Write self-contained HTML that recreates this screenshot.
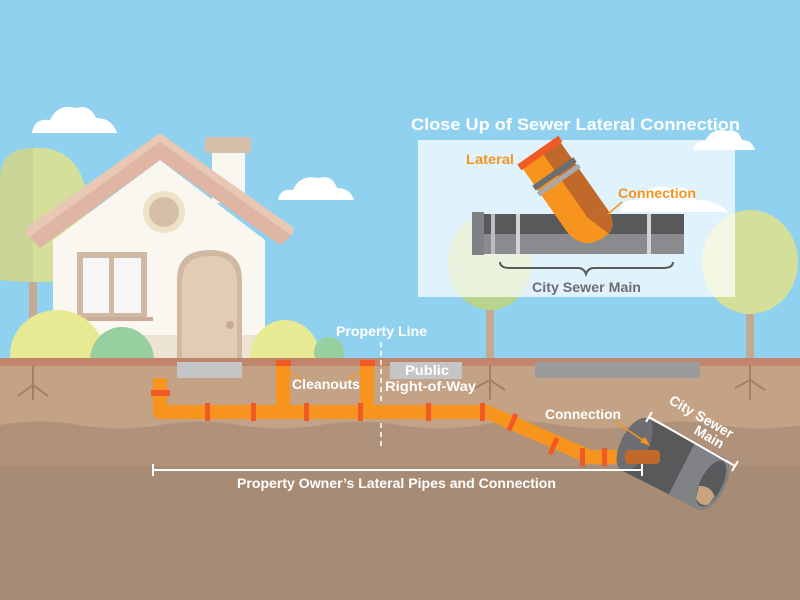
<!DOCTYPE html>
<html><head><meta charset="utf-8"><style>
html,body{margin:0;padding:0;width:800px;height:600px;overflow:hidden}
svg{display:block}
text{font-family:"Liberation Sans",sans-serif;font-weight:bold}
</style></head><body>
<svg width="800" height="600" viewBox="0 0 800 600" xmlns="http://www.w3.org/2000/svg">
<rect width="800" height="600" fill="#8fd1ef"/>
<g fill="#fff">
<path d="M32 133 Q34 118 50 120 Q58 103 76 108 Q90 104 96 118 Q112 118 117 133 Z"/>
<path d="M278 200 Q280 188 293 190 Q300 174 318 178 Q332 174 337 188 Q350 188 354 200 Z"/>
<path d="M693 150 Q695 140 705 141 Q712 127 727 131 Q738 128 742 140 Q752 140 755 150 Z"/>
<path d="M620 212 Q622 198 638 200 Q650 182 670 188 Q690 184 696 200 Q718 200 728 212 Z"/>
</g>
<rect x="29" y="280" width="8" height="80" fill="#c4a995"/>
<path d="M33 148 Q0 148 0 180 L0 280 Q15 282 33 282 Z" fill="#cbd497"/>
<path d="M33 148 Q80 145 88 200 Q92 270 55 282 L33 282 Z" fill="#d4e09a"/>
<rect x="486" y="300" width="8" height="62" fill="#c4a995"/>
<ellipse cx="490" cy="262" rx="42" ry="48" fill="#b8d48c"/>
<rect x="746" y="300" width="8" height="62" fill="#c4a995"/>
<ellipse cx="750" cy="262" rx="48" ry="52" fill="#d4e09a"/>
<rect x="205" y="137" width="46" height="16" fill="#d6bfa8"/>
<rect x="212" y="153" width="33" height="50" fill="#faf6f0"/>
<polygon points="53,240 160,160 265,240 265,360 53,360" fill="#faf7f1"/>
<rect x="53" y="335" width="212" height="25" fill="#ece3d2"/>
<polygon points="28,235 160,140 292,235 280,245 160,160 40,248" fill="#dfb6a3"/>
<polygon points="26,228 160,133 294,228 292,236 160,142 28,238" fill="#e8c8b4"/>
<circle cx="164" cy="212" r="21" fill="#ede2c8"/>
<circle cx="164" cy="212" r="15" fill="#d6bfa8"/>
<rect x="77" y="252" width="70" height="68" fill="#d1b8a3"/>
<rect x="83" y="258" width="26" height="55" fill="#f6f6f6"/>
<rect x="114" y="258" width="27" height="55" fill="#f6f6f6"/>
<rect x="87" y="317" width="66" height="4" fill="#c9ab97"/>
<path d="M177 360 L177 280 Q177 250 210 250 Q242 250 242 280 L242 360 Z" fill="#d1b8a3"/>
<path d="M182 360 L182 282 Q182 256 210 256 Q237 256 237 282 L237 360 Z" fill="#e2ccb4"/>
<circle cx="230" cy="325" r="4" fill="#c9ab97"/>
<ellipse cx="57" cy="355" rx="47" ry="45" fill="#e8ea93"/>
<ellipse cx="122" cy="360" rx="32" ry="33" fill="#97cfa0"/>
<ellipse cx="285" cy="358" rx="35" ry="38" fill="#e8ea93"/>
<ellipse cx="329" cy="352" rx="15" ry="15" fill="#97cfa0"/>
<rect x="418" y="140" width="317" height="157" fill="#ffffff" fill-opacity="0.72"/>
<text x="411" y="130" font-size="17" fill="#fff" textLength="329" lengthAdjust="spacingAndGlyphs">Close Up of Sewer Lateral Connection</text>
<rect x="472" y="212" width="12" height="43" fill="#808184"/>
<rect x="484" y="214" width="200" height="20" fill="#58595b"/>
<rect x="484" y="234" width="200" height="20" fill="#8a8b8e"/>
<rect x="491" y="214" width="4" height="40" fill="#bcbdc0"/>
<rect x="516" y="214" width="4" height="40" fill="#d4d4d4"/>
<rect x="647" y="214" width="4" height="40" fill="#d4d4d4"/>
<g transform="translate(570,196) rotate(-35)">
<rect x="-23" y="-50" width="46" height="78" fill="#f7941d"/>
<rect x="2" y="-50" width="21" height="78" fill="#c0692a"/>
<path d="M-23 28 Q-20 56 10 53 Q24 50 23 28 Z" fill="#f7941d"/>
<path d="M2 28 L23 28 Q24 50 10 53 Z" fill="#c0692a"/>
<rect x="-25" y="-56" width="50" height="7" fill="#f15a24"/>
<rect x="-25" y="-30" width="50" height="6" fill="#6d6e71"/>
<rect x="-25" y="-22" width="50" height="5" fill="#a7a9ac"/>
</g>
<text x="466" y="164" font-size="14" fill="#f7941d" textLength="48" lengthAdjust="spacingAndGlyphs">Lateral</text>
<text x="618" y="198" font-size="14" fill="#f7941d" textLength="78" lengthAdjust="spacingAndGlyphs">Connection</text>
<path d="M622 202 L608 214" stroke="#f7941d" stroke-width="1.5"/>
<path d="M500 262 Q500 268 510 268 L578 268 Q584 268 586 274 Q588 268 594 268 L663 268 Q673 268 673 262" fill="none" stroke="#58595b" stroke-width="2"/>
<text x="532" y="292" font-size="14" fill="#6d6e71" textLength="109" lengthAdjust="spacingAndGlyphs">City Sewer Main</text>
<rect x="0" y="358" width="800" height="242" fill="#c4a285"/>
<rect x="0" y="358" width="800" height="8" fill="#c0856a"/>
<path d="M0 425 Q40 418 80 425 T160 425 T240 425 T320 425 T400 425 T480 425 T560 425 T640 425 T720 425 T800 425 L800 600 L0 600 Z" fill="#b0927b"/>
<rect x="0" y="466" width="800" height="134" fill="#a88b74"/>
<rect x="177" y="362" width="65" height="16" fill="#c4c5c7"/>
<rect x="535" y="362" width="165" height="16" fill="#9a9b9d"/>
<rect x="390" y="362" width="72" height="17" fill="#c4c5c7"/>
<g stroke="#a57e64" stroke-width="2" fill="none">
<path d="M33 366 L33 400 M33 385 L18 396 M33 385 L48 396"/>
<path d="M490 366 L490 400 M490 380 L475 388 M490 380 L505 390"/>
<path d="M750 366 L750 400 M750 380 L735 388 M750 380 L765 390"/>
</g>
<line x1="381" y1="342" x2="381" y2="448" stroke="#fff" stroke-width="1.5" stroke-dasharray="5,4"/>
<g fill="none" stroke="#f7941d" stroke-width="14" stroke-linejoin="round">
<path d="M160 378 L160 412 L487 412 L590 457 L640 457"/>
<path d="M283 364 L283 412 M367 364 L367 412"/>
</g>
<g fill="#f15a24">
<rect x="151" y="390" width="19" height="6"/>
<rect x="276" y="360" width="15" height="6"/>
<rect x="360" y="360" width="15" height="6"/>
<rect x="205" y="403" width="5" height="18"/>
<rect x="251" y="403" width="5" height="18"/>
<rect x="304" y="403" width="5" height="18"/>
<rect x="358" y="403" width="5" height="18"/>
<rect x="426" y="403" width="5" height="18"/>
<rect x="480" y="403" width="5" height="18"/>
<rect x="510" y="413" width="5" height="18" transform="rotate(24 512 422)"/>
<rect x="551" y="437" width="5" height="18" transform="rotate(24 553 446)"/>
<rect x="580" y="448" width="5" height="18"/>
<rect x="602" y="448" width="5" height="18"/>
</g>
<g transform="translate(673,464) rotate(27)">
<rect x="-43" y="-29" width="86" height="58" fill="#58595b"/>
<rect x="10" y="-29" width="33" height="58" fill="#808285"/>
<ellipse cx="-43" cy="0" rx="14" ry="29" fill="#6d6e71"/>
<ellipse cx="43" cy="0" rx="14" ry="29" fill="#808285"/>
<ellipse cx="43" cy="0" rx="11" ry="25" fill="#58595b"/>
<path d="M33 8 Q43 2 52 10 L50 20 Q43 26 36 20 Z" fill="#c9a27e"/>
</g>
<rect x="625" y="450" width="35" height="14" rx="4" fill="#c0692a"/>
<text x="336" y="336" font-size="14" fill="#fff" textLength="91" lengthAdjust="spacingAndGlyphs">Property Line</text>
<text x="405" y="375" font-size="14" fill="#fff" textLength="44" lengthAdjust="spacingAndGlyphs">Public</text>
<text x="385" y="391" font-size="14" fill="#fff" textLength="91" lengthAdjust="spacingAndGlyphs">Right-of-Way</text>
<text x="292" y="389" font-size="14" fill="#fff" textLength="68" lengthAdjust="spacingAndGlyphs">Cleanouts</text>
<path d="M302 380 L290 372 M348 380 L360 372" stroke="#f7941d" stroke-width="1.5"/>
<text x="545" y="419" font-size="14" fill="#fff" textLength="76" lengthAdjust="spacingAndGlyphs">Connection</text>
<path d="M616 422 L647 443" stroke="#f7941d" stroke-width="1.5"/>
<polygon points="650,446 640,442 645,437" fill="#f7941d"/>
<text transform="translate(668,403) rotate(30)" font-size="14" fill="#fff">City Sewer</text>
<text transform="translate(693,433) rotate(30)" font-size="14" fill="#fff">Main</text>
<path d="M649 417 L735 466 M646 422 L652 412 M732 471 L738 461" stroke="#fff" stroke-width="2"/>
<path d="M153 470 L642 470 M153 464 L153 476 M642 464 L642 476" stroke="#fff" stroke-width="2"/>
<text x="237" y="488" font-size="14" fill="#fff" textLength="319" lengthAdjust="spacingAndGlyphs">Property Owner’s Lateral Pipes and Connection</text>
</svg>
</body></html>
